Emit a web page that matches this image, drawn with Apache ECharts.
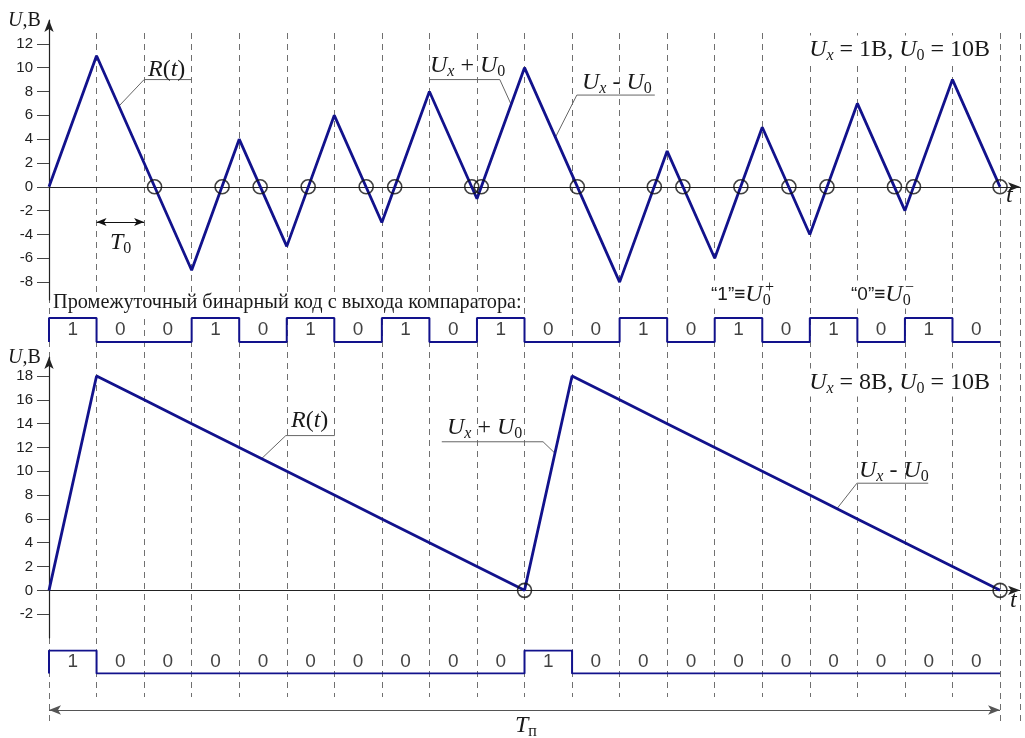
<!DOCTYPE html>
<html><head><meta charset="utf-8">
<script src="https://cdn.jsdelivr.net/npm/echarts@6/dist/echarts.min.js"></script>
<style>html,body{margin:0;padding:0;background:#fff}#c{width:1025px;height:738px}</style>
</head><body><div id="c"></div>
<script>
// ---- data (time in units of T0) ----
const periods = [0,1,2,3,4,5,6,7,8,9,10,11,12,13,14,15,16,17,18,19,20];
const topR = [0, 11, 2, -7, 4, -5, 6, -3, 8, -1, 10, 1, -8, 3, -6, 5, -4, 7, -2, 9, 0];
const topZeros = [2.22, 3.64, 4.44, 5.45, 6.67, 7.27, 8.89, 9.09, 11.11, 12.73, 13.33, 14.55, 15.56, 16.36, 17.78, 18.18, 20];
const topCode = [1,0,0,1,0,1,0,1,0,1,0,0,1,0,1,0,1,0,1,0];
const bottomR = [0, 18, 16, 14, 12, 10, 8, 6, 4, 2, 0, 18, 16, 14, 12, 10, 8, 6, 4, 2, 0];
const bottomZeros = [10, 20];
const bottomCode = [1,0,0,0,0,0,0,0,0,0,1,0,0,0,0,0,0,0,0,0];
const topTicks = [-8,-6,-4,-2,0,2,4,6,8,10,12];
const bottomTicks = [-2,0,2,4,6,8,10,12,14,16,18];

// ---- styling ----
const X_MAX = 20.42;
const NAVY = '#12128c';
const DASH = '#707070';
const SERIF = 'Liberation Serif', SANS = 'Liberation Sans';
const TXT = '#1a1a1a';

const chart = echarts.init(document.getElementById('c'), null, {renderer: 'canvas'});

function curve(arr) { return periods.map((t, i) => [t, arr[i]]); }
function zeros(arr) { return arr.map(t => [t, 0]); }
function codeLine(code) {
  const d = [[0, 0]];
  code.forEach((c, i) => d.push([i, c]));
  d.push([code.length, code[code.length - 1]]);
  return d;
}
function codeDigits(code) { return code.map((c, i) => [i + 0.5, 0.5, c]); }

function xAx(gi, opts) {
  return Object.assign({
    type: 'value', gridIndex: gi, min: 0, max: X_MAX,
    axisLine: {show: false}, axisTick: {show: false}, axisLabel: {show: false}, splitLine: {show: false}
  }, opts || {});
}
const mainXLine = {show: true, onZero: true, symbol: ['none', 'arrow'], symbolSize: [7, 12],
  lineStyle: {color: '#222', width: 1.2}};
function yMain(gi, min, max, ticks) {
  return {
    type: 'value', gridIndex: gi, min: min, max: max,
    axisLine: {show: true, onZero: false, symbol: ['none', 'arrow'], symbolSize: [7, 12],
      lineStyle: {color: '#222', width: 1.2}},
    axisTick: {show: true, customValues: ticks, length: 12, lineStyle: {color: '#444', width: 1}},
    axisLabel: {show: true, customValues: ticks, fontSize: 15, fontFamily: SANS, color: '#222', margin: 16},
    splitLine: {show: false}
  };
}
function yHidden(gi, min, max) {
  return {type: 'value', gridIndex: gi, min: min, max: max, show: false};
}
function leader(gi, pts) {
  return {type: 'line', xAxisIndex: gi, yAxisIndex: gi, data: pts, symbol: 'none', silent: true,
    lineStyle: {color: '#666', width: 1}, z: 3};
}

const RICH = {
  i: {fontFamily: SERIF, fontStyle: 'italic', fontSize: 24, lineHeight: 28, fill: TXT},
  n: {fontFamily: SERIF, fontSize: 24, lineHeight: 28, fill: TXT},
  si: {fontFamily: SERIF, fontStyle: 'italic', fontSize: 16, lineHeight: 16, verticalAlign: 'bottom', fill: TXT},
  s: {fontFamily: SERIF, fontSize: 16, lineHeight: 16, verticalAlign: 'bottom', fill: TXT},
  a: {fontFamily: SERIF, fontStyle: 'italic', fontSize: 20, lineHeight: 24, fill: TXT},
  b: {fontFamily: SERIF, fontSize: 20, lineHeight: 24, fill: TXT},
  c: {fontFamily: SERIF, fontSize: 20.3, lineHeight: 22, fill: TXT},
  q: {fontFamily: SANS, fontSize: 19, lineHeight: 28, fill: TXT},
  sup: {fontFamily: SERIF, fontSize: 16, lineHeight: 16, fill: TXT}
};
function txt(x, y, text, extra) {
  return {type: 'text', x: x, y: y, z: 100, silent: true,
    style: Object.assign({text: text, rich: RICH, fill: TXT, font: '24px "Liberation Serif"',
      align: 'left', verticalAlign: 'top'}, extra || {})};
}
const WHITE = {backgroundColor: '#fff'};

const option = {
  animation: false,
  backgroundColor: '#fff',
  grid: [
    {left: 49, top: 20, width: 971, height: 280},     // 0 top chart
    {left: 49, top: 357, width: 971, height: 281},    // 1 bottom chart
    {left: 49, top: 318, width: 971, height: 24},     // 2 top code
    {left: 49, top: 650.5, width: 971, height: 23},   // 3 bottom code
    {left: 49, top: 33, width: 971, height: 664},     // 4 dashed period lines
    {left: 49, top: 33, width: 971, height: 689}      // 5 long dashed lines + Tп
  ],
  xAxis: [
    xAx(0, {axisLine: mainXLine}),
    xAx(1, {axisLine: mainXLine}),
    xAx(2), xAx(3),
    xAx(4, {interval: 1, splitLine: {show: true, lineStyle: {color: DASH, width: 1, type: [6, 5]}}}),
    xAx(5, {interval: 20, splitLine: {show: true, lineStyle: {color: DASH, width: 1, type: [6, 5]}}})
  ],
  yAxis: [
    yMain(0, -9.5, 14, topTicks),
    yMain(1, -4, 19.6, bottomTicks),
    yHidden(2, 0, 1), yHidden(3, 0, 1), yHidden(4, 0, 1), yHidden(5, 0, 1)
  ],
  series: [
    {type: 'line', xAxisIndex: 0, yAxisIndex: 0, data: curve(topR), symbol: 'none', z: 5,
      lineStyle: {color: NAVY, width: 2.8},
      markLine: {silent: true, symbol: ['arrow', 'arrow'], symbolSize: [6, 10], label: {show: false},
        lineStyle: {color: '#111', width: 1, type: 'solid'},
        data: [[{coord: [1, -2.95]}, {coord: [2, -2.95]}]]}},
    {type: 'scatter', xAxisIndex: 0, yAxisIndex: 0, data: zeros(topZeros), symbol: 'circle', symbolSize: 14, z: 6,
      itemStyle: {color: 'rgba(0,0,0,0)', borderColor: '#111', borderWidth: 1.6}},
    {type: 'line', xAxisIndex: 1, yAxisIndex: 1, data: curve(bottomR), symbol: 'none', z: 5,
      lineStyle: {color: NAVY, width: 2.8}},
    {type: 'scatter', xAxisIndex: 1, yAxisIndex: 1, data: zeros(bottomZeros), symbol: 'circle', symbolSize: 14, z: 6,
      itemStyle: {color: 'rgba(0,0,0,0)', borderColor: '#111', borderWidth: 1.6}},
    {type: 'line', xAxisIndex: 2, yAxisIndex: 2, data: codeLine(topCode), step: 'end', symbol: 'none', z: 5,
      lineStyle: {color: NAVY, width: 2}},
    {type: 'scatter', xAxisIndex: 2, yAxisIndex: 2, data: codeDigits(topCode), symbolSize: 1,
      itemStyle: {color: 'rgba(0,0,0,0)'},
      label: {show: true, position: 'inside', formatter: p => String(p.value[2]), fontSize: 19, fontFamily: SANS, color: '#111'}},
    {type: 'line', xAxisIndex: 3, yAxisIndex: 3, data: codeLine(bottomCode), step: 'end', symbol: 'none', z: 5,
      lineStyle: {color: NAVY, width: 2}},
    {type: 'scatter', xAxisIndex: 3, yAxisIndex: 3, data: codeDigits(bottomCode), symbolSize: 1,
      itemStyle: {color: 'rgba(0,0,0,0)'},
      label: {show: true, position: 'inside', formatter: p => String(p.value[2]), fontSize: 19, fontFamily: SANS, color: '#111'}},
    // leaders
    leader(0, [[3, 9], [2, 9], [1.47, 6.77]]),
    leader(0, [[8.01, 9], [9.48, 9], [9.72, 6.9]]),
    leader(0, [[12.74, 7.7], [11.1, 7.7], [10.65, 4.15]]),
    leader(1, [[6.01, 13], [4.98, 13], [4.47, 11.06]]),
    leader(1, [[8.26, 12.48], [10.39, 12.48], [10.64, 11.52]]),
    leader(1, [[18.49, 9], [16.99, 9], [16.57, 6.86]]),
    // Tп span arrow
    {type: 'line', xAxisIndex: 5, yAxisIndex: 5, data: [], silent: true,
      markLine: {silent: true, symbol: ['arrow', 'arrow'], symbolSize: [7, 12], label: {show: false},
        lineStyle: {color: '#555', width: 1.2, type: 'solid'},
        data: [[{coord: [0, 0.0174]}, {coord: [20, 0.0174]}]]}}
  ],
  graphic: [
    txt(8, 9, '{a|U}{b|,В}'),
    txt(990, 35.5, '{i|U}{si|x}{n| = 1В, }{i|U}{s|0}{n| = 10В}', Object.assign({align: 'right'}, WHITE)),
    txt(148, 55.5, '{i|R}{n|(}{i|t}{n|)}'),
    txt(430, 51.5, '{i|U}{si|x}{n| + }{i|U}{s|0}'),
    txt(582, 68.5, '{i|U}{si|x}{n| - }{i|U}{s|0}'),
    txt(110, 228.5, '{i|T}{s|0}'),
    txt(1006, 182, '{i|t}'),
    txt(53, 292, '{c|Промежуточный бинарный код с выхода компаратора:}', WHITE),
    txt(711, 280.5, '{q|“1”≡}{i|U}{s|0}', WHITE),
    txt(765, 280, '{sup|+}'),
    txt(851, 280.5, '{q|“0”≡}{i|U}{s|0}', WHITE),
    txt(905, 280, '{sup|−}'),
    txt(8, 346, '{a|U}{b|,В}'),
    txt(990, 368.5, '{i|U}{si|x}{n| = 8В, }{i|U}{s|0}{n| = 10В}', Object.assign({align: 'right'}, WHITE)),
    txt(291, 406.5, '{i|R}{n|(}{i|t}{n|)}'),
    txt(447, 413.5, '{i|U}{si|x}{n| + }{i|U}{s|0}'),
    txt(859, 456.5, '{i|U}{si|x}{n| - }{i|U}{s|0}'),
    txt(1010, 587, '{i|t}'),
    txt(515, 711.5, '{i|T}{s|п}')
  ]
};
chart.setOption(option);
</script>
</body></html>
